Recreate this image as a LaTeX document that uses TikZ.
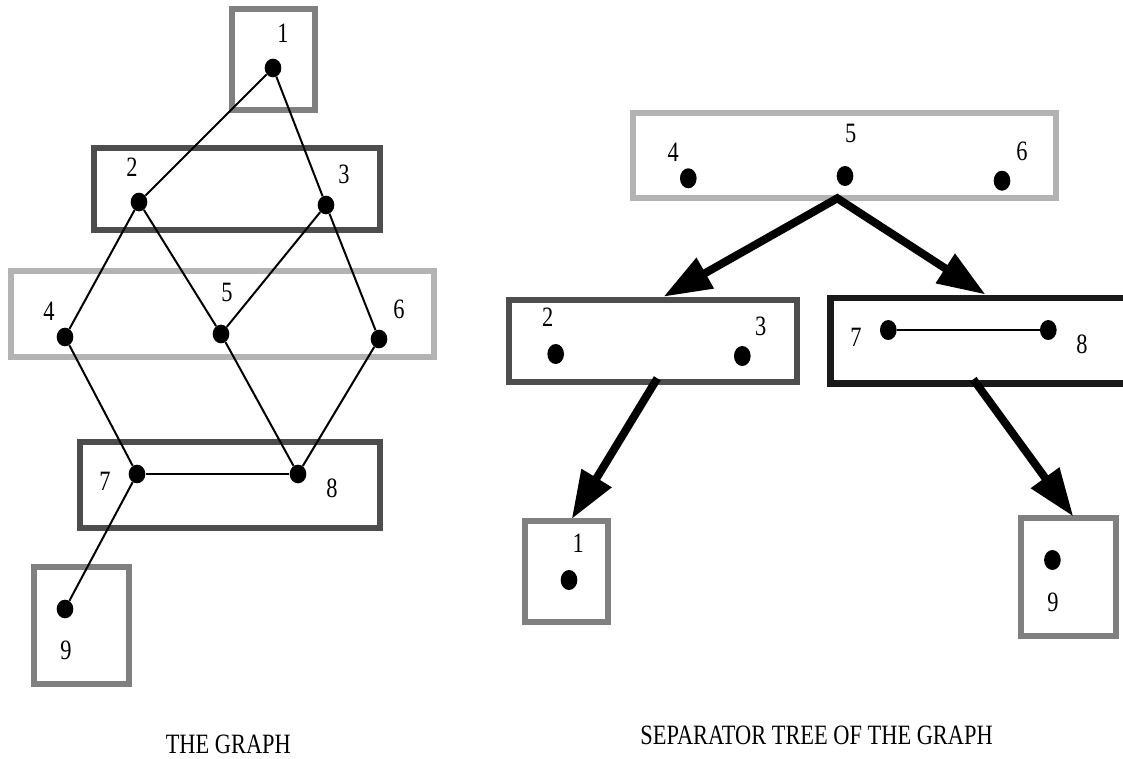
\documentclass[tikz,border=0pt]{standalone}
\usepackage{fontspec}
\setmainfont{Liberation Serif}[FakeStretch=0.8]
\usetikzlibrary{arrows.meta,shapes.geometric}
\definecolor{gmid}{HTML}{808080}
\definecolor{gdark}{HTML}{4D4D4D}
\definecolor{glight}{HTML}{B3B3B3}
\definecolor{gblack}{HTML}{1A1A1A}
\tikzset{
  edge/.style={line width=1.5pt},
  dot/.style={ellipse, fill=black, inner sep=0pt, minimum width=12.5pt, minimum height=14pt},
  lbl/.style={inner sep=0pt, font=\fontsize{21}{24}\selectfont},
  sepbox/.style={line width=4.5pt},
  treearrow/.style={line width=6pt, line join=miter, >={Triangle[length=36pt,width=25pt]}},
}
\begin{document}
\begin{tikzpicture}[x=0.75pt,y=-0.75pt]
\useasboundingbox (0,0) rectangle (1123,759);
\clip (0,0) rectangle (1123,759);

% ---------------- THE GRAPH ----------------
\draw[sepbox, gmid]   (232,9.5) rectangle (314.5,110);
\draw[sepbox, gdark]  (93.5,148.5) rectangle (380,230);
\draw[sepbox, glight] (10.7,271) rectangle (433.5,357);
\draw[sepbox, gdark]  (80,441.5) rectangle (380,528);
\draw[sepbox, gmid]   (33.5,566.5) rectangle (128.5,684);

\node[dot] (g1) at (273,68) {};
\node[dot] (g2) at (139,202) {};
\node[dot] (g3) at (326,205) {};
\node[dot] (g4) at (65,337) {};
\node[dot] (g5) at (221,334) {};
\node[dot] (g6) at (379,339) {};
\node[dot] (g7) at (137,474) {};
\node[dot] (g8) at (298,474) {};
\node[dot] (g9) at (65,609) {};

\node[lbl] (gl1) at (283,33) {1};
\node[lbl] (gl2) at (132,167) {2};
\node[lbl] (gl3) at (344,174) {3};
\node[lbl] (gl4) at (49,311) {4};
\node[lbl] (gl5) at (227,292) {5};
\node[lbl] (gl6) at (399,309) {6};
\node[lbl] (gl7) at (105,481) {7};
\node[lbl] (gl8) at (332,488) {8};
\node[lbl] (gl9) at (66,650) {9};

\draw[edge] (g1) -- (g2);
\draw[edge] (g1) -- (g3);
\draw[edge] (g2) -- (g4);
\draw[edge] (g2) -- (g5);
\draw[edge] (g3) -- (g5);
\draw[edge] (g3) -- (g6);
\draw[edge] (g4) -- (g7);
\draw[edge] (g5) -- (g8);
\draw[edge] (g6) -- (g8);
\draw[edge] (g7) -- (g8);
\draw[edge] (g7) -- (g9);

\node[lbl] (gtitle) at (228.3,744) {THE GRAPH};

% ---------------- SEPARATOR TREE ----------------
\draw[sepbox, glight] (633,113) rectangle (1056,198.5);
\draw[sepbox, gdark]  (509,300) rectangle (797,381.7);
\draw[sepbox, gblack, line width=5.2pt] (830.3,298) rectangle (1150,383.3);
\draw[sepbox, gmid]   (524.7,520.7) rectangle (608.3,621.7);
\draw[sepbox, gmid]   (1021,518.3) rectangle (1116,636);

\node[dot, minimum height=15pt] (t4) at (688.3,178.3) {};
\node[dot, minimum height=15pt] (t5) at (845,176) {};
\node[dot, minimum height=15pt] (t6) at (1002,180.7) {};
\node[dot, minimum height=15pt] (t2) at (555.7,354) {};
\node[dot, minimum height=15pt] (t3) at (742.3,356) {};
\node[dot, minimum height=15pt] (t7) at (888.3,330) {};
\node[dot, minimum height=15pt] (t8) at (1048.3,330) {};
\node[dot, minimum height=15pt] (t1) at (569,580) {};
\node[dot, minimum height=15pt] (t9) at (1052.4,560) {};

\node[lbl] (tl4) at (673.3,152.3) {4};
\node[lbl] (tl5) at (850.7,133.3) {5};
\node[lbl] (tl6) at (1022,151) {6};
\node[lbl] (tl2) at (547.7,317.7) {2};
\node[lbl] (tl3) at (760.7,326) {3};
\node[lbl] (tl7) at (856,337.7) {7};
\node[lbl] (tl8) at (1082,344.3) {8};
\node[lbl] (tl1) at (578.3,543.3) {1};
\node[lbl] (tl9) at (1053,602.7) {9};

\draw[edge] (t7) -- (t8);

\coordinate (src456) at (837.3,198.3);
\coordinate (in23) at (663.5,296.7);
\coordinate (in78) at (985.5,294.5);
\coordinate (out23) at (657.3,378.3);
\coordinate (in1) at (571.7,519);
\coordinate (out78) at (973.3,379.3);
\coordinate (in9) at (1073.3,516.5);

\draw[treearrow, <->] (in23) -- (src456) -- (in78);
\draw[treearrow, ->] (out23) -- (in1);
\draw[treearrow, ->] (out78) -- (in9);

\node[lbl] (ttitle) at (816.6,735.3) {SEPARATOR TREE OF THE GRAPH};
\end{tikzpicture}
\end{document}
